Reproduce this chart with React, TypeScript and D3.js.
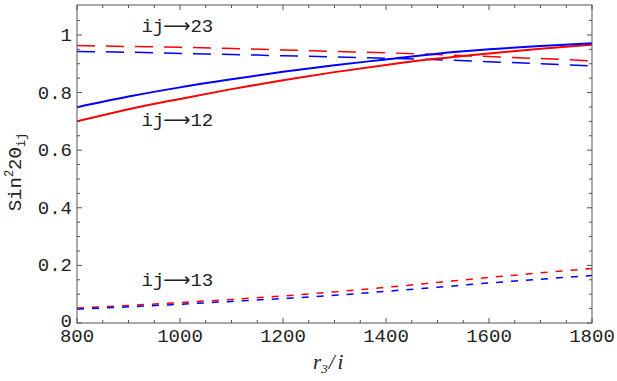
import * as d3 from "d3";

// r3 / i values along the x axis
const xs = [800, 900, 1000, 1100, 1200, 1300, 1400, 1500, 1600, 1700, 1800];

// sin^2 2theta
const s12Blue = [0.749, 0.786, 0.818, 0.846, 0.872, 0.895, 0.915, 0.935, 0.950, 0.962, 0.971];
const s12Red = [0.700, 0.742, 0.778, 0.812, 0.843, 0.871, 0.896, 0.918, 0.936, 0.952, 0.966];
const s23Red = [0.963, 0.960, 0.957, 0.953, 0.948, 0.943, 0.938, 0.932, 0.925, 0.918, 0.910];
const s23Blue = [0.943, 0.940, 0.936, 0.932, 0.928, 0.924, 0.919, 0.914, 0.907, 0.900, 0.892];
const s13Red = [0.052, 0.061, 0.071, 0.082, 0.094, 0.108, 0.124, 0.141, 0.158, 0.174, 0.189];
const s13Blue = [0.048, 0.056, 0.065, 0.075, 0.085, 0.096, 0.110, 0.124, 0.139, 0.152, 0.165];

const xTicks = [800, 1000, 1200, 1400, 1600, 1800];
const yTicks = [0, 0.2, 0.4, 0.6, 0.8, 1];
const curveLabels = [
  { pair: "23", at: 1.01 },
  { pair: "12", at: 0.685 },
  { pair: "13", at: 0.13 },
];

const W = 617;
const H = 381;
const left = 77, right = 592, top = 5, bottom = 323;

export default function App() {
  const x = d3.scaleLinear().domain([800, 1800]).range([left, right]);
  const y = d3.scaleLinear().domain([0, 1.104]).range([bottom, top]);

  const line = d3
    .line<number>()
    .x((_, i) => x(xs[i]))
    .y((d) => y(d))
    .curve(d3.curveMonotoneX);

  const xMinor = d3.range(800, 1801, 50).filter((v) => v % 200 !== 0);
  const yMinor = d3.range(0, 1.1, 0.05).filter((v) => Math.abs(v / 0.2 - Math.round(v / 0.2)) > 0.01);

  const mono = "'Liberation Mono', 'DejaVu Sans Mono', monospace";
  const axisCol = "#555";
  const txt = "#222";

  const series = [
    { v: s23Red, c: "red", dash: "18,11", w: 1.5 },
    { v: s23Blue, c: "blue", dash: "18,11", w: 1.5 },
    { v: s13Red, c: "red", dash: "7,8", w: 1.5 },
    { v: s13Blue, c: "blue", dash: "7,8", w: 1.5 },
    { v: s12Red, c: "red", dash: null, w: 2 },
    { v: s12Blue, c: "blue", dash: null, w: 2 },
  ];

  return (
    <svg
      width={W}
      height={H}
      style={{ position: "absolute", left: 0, top: 0, background: "white" }}
    >
      <defs>
        <clipPath id="plot">
          <rect x={left} y={top} width={right - left} height={bottom - top} />
        </clipPath>
      </defs>

      <g clipPath="url(#plot)" fill="none">
        {series.map((s, i) => (
          <path
            key={i}
            d={line(s.v) || ""}
            stroke={s.c}
            strokeWidth={s.w}
            strokeDasharray={s.dash || undefined}
          />
        ))}
      </g>

      {/* frame */}
      <rect x={left} y={top} width={right - left} height={bottom - top} fill="none" stroke={axisCol} strokeWidth={1} />

      {/* x ticks, bottom and top */}
      {xTicks.map((t) => (
        <g key={"xt" + t}>
          <line x1={x(t)} x2={x(t)} y1={bottom} y2={bottom - 5} stroke={axisCol} />
          <line x1={x(t)} x2={x(t)} y1={top} y2={top + 5} stroke={axisCol} />
          <text x={x(t)} y={342} textAnchor="middle" fontFamily={mono} fontSize={19} fill={txt}>
            {t}
          </text>
        </g>
      ))}
      {xMinor.map((t) => (
        <g key={"xm" + t}>
          <line x1={x(t)} x2={x(t)} y1={bottom} y2={bottom - 3} stroke={axisCol} />
          <line x1={x(t)} x2={x(t)} y1={top} y2={top + 3} stroke={axisCol} />
        </g>
      ))}

      {/* y ticks, left and right */}
      {yTicks.map((t) => (
        <g key={"yt" + t}>
          <line x1={left} x2={left + 5} y1={y(t)} y2={y(t)} stroke={axisCol} />
          <line x1={right} x2={right - 5} y1={y(t)} y2={y(t)} stroke={axisCol} />
          <text x={72} y={y(t) + (t === 0 ? 4 : 6)} textAnchor="end" fontFamily={mono} fontSize={19} fill={txt}>
            {t === 0 || t === 1 ? String(t) : d3.format(".1f")(t)}
          </text>
        </g>
      ))}
      {yMinor.map((t) => (
        <g key={"ym" + t}>
          <line x1={left} x2={left + 3} y1={y(t)} y2={y(t)} stroke={axisCol} />
          <line x1={right} x2={right - 3} y1={y(t)} y2={y(t)} stroke={axisCol} />
        </g>
      ))}

      {/* curve labels */}
      {curveLabels.map((l) => (
        <text key={l.pair} x={x(925)} y={y(l.at)} fontFamily={mono} fontSize={19} fill={txt}>
          ij
          <tspan fontFamily="'DejaVu Sans', sans-serif" fontSize={19} dx={-1}>⟶</tspan>
          {l.pair}
        </text>
      ))}

      {/* axis titles */}
      <text x={313} y={369} fontFamily="'Liberation Serif', serif" fontStyle="italic" fontSize={21} fill={txt}>
        r<tspan fontSize={13} dy={4}>3</tspan>
        <tspan dy={-4} dx={1}>/</tspan>
        <tspan dx={3}>i</tspan>
      </text>
      <text
        transform="translate(21,172) rotate(-90)"
        textAnchor="middle"
        fontFamily={mono}
        fontSize={19}
        fill={txt}
      >
        Sin<tspan fontSize={12} dy={-8}>2</tspan>
        <tspan dy={8}>2Θ</tspan>
        <tspan fontSize={12} dy={4}>ij</tspan>
      </text>
    </svg>
  );
}
